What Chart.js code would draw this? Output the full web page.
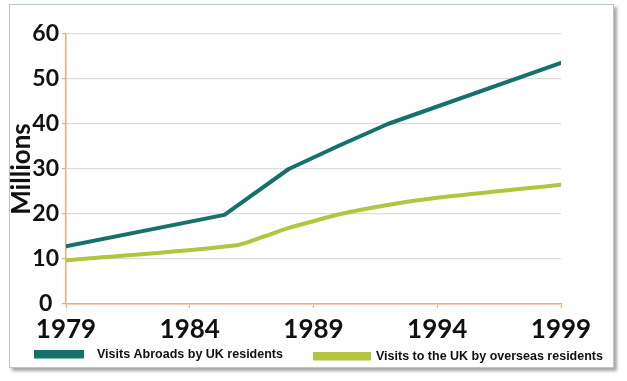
<!DOCTYPE html>
<html>
<head>
<meta charset="utf-8">
<script src="https://cdn.jsdelivr.net/npm/chart.js@4.4.1/dist/chart.umd.min.js"></script>
<style>
  html, body { margin: 0; padding: 0; background: #ffffff; }
  #frame { position: absolute; left: 9px; top: 4px; width: 605px; height: 364px; box-sizing: border-box;
           border: 1px solid #b9c6d6; background: #fff; box-shadow: 3px 3px 3px rgba(0,0,0,0.35); }
  #c { position: absolute; left: 0; top: 0; }
</style>
</head>
<body>
<div id="frame"></div>
<canvas id="c" width="627" height="381"></canvas>
<script>
// ---- data ----
const seriesNames = ['Visits Abroads by UK residents', 'Visits to the UK by overseas residents'];
const abroadYears  = [1979, 1985.4, 1988, 1990, 1992, 1999];
const abroadValues = [12.8, 19.8, 30, 35.1, 40, 53.6];
const toUKYears    = [1979, 1985.8, 1987, 1988, 1989, 1990, 1992, 1994, 1999];
const toUKValues   = [9.7, 13.0, 15.0, 16.9, 18.4, 19.9, 22.0, 23.6, 26.5];
const xTickYears   = [1979, 1984, 1989, 1994, 1999];
const yTicks       = [0, 10, 20, 30, 40, 50, 60];
const yTitle = 'Millions';

const TEAL = '#15726a';
const LIME = '#b3c43f';
const ORANGE = '#f7a873';

const toPoints = (xs, ys) => xs.map((x, i) => ({ x: x, y: ys[i] }));

// Legend drawn below the x axis, taking names and colours from the datasets
const bottomLegend = {
  id: 'bottomLegend',
  afterDraw(chart) {
    const ctx = chart.ctx;
    const items = [
      { boxX: 34, boxW: 50, boxY: 350, textX: 97 },
      { boxX: 313, boxW: 58, boxY: 352, textX: 376 }
    ];
    ctx.save();
    ctx.font = 'bold 12.5px "Liberation Sans"';
    ctx.textBaseline = 'middle';
    ctx.textAlign = 'left';
    chart.data.datasets.forEach((ds, i) => {
      const it = items[i];
      ctx.fillStyle = ds.borderColor;
      ctx.fillRect(it.boxX, it.boxY, it.boxW, 8.5);
      ctx.fillStyle = '#111';
      ctx.fillText(ds.label, it.textX, it.boxY + 5);
    });
    ctx.restore();
  }
};

new Chart(document.getElementById('c'), {
  type: 'line',
  data: {
    datasets: [
      { label: seriesNames[0], data: toPoints(abroadYears, abroadValues), borderColor: TEAL, backgroundColor: TEAL,
        borderWidth: 4, pointRadius: 0, tension: 0, borderJoinStyle: 'round', borderCapStyle: 'round' },
      { label: seriesNames[1], data: toPoints(toUKYears, toUKValues), borderColor: LIME, backgroundColor: LIME,
        borderWidth: 4, pointRadius: 0, tension: 0.3, borderJoinStyle: 'round', borderCapStyle: 'round' }
    ]
  },
  plugins: [bottomLegend],
  options: {
    responsive: false,
    animation: false,
    layout: { padding: { top: 34, left: 0, right: 0, bottom: 37 } },
    plugins: {
      tooltip: { enabled: false },
      legend: { display: false }
    },
    scales: {
      x: {
        type: 'linear', min: xTickYears[0], max: xTickYears[xTickYears.length - 1],
        afterBuildTicks: s => { s.ticks = xTickYears.map(v => ({ value: v })); },
        afterFit: s => { s.height = 40; },
        border: { display: true, color: ORANGE, width: 1.5 },
        grid: { drawOnChartArea: false, drawTicks: true, tickLength: 4, tickColor: ORANGE, color: ORANGE },
        ticks: { padding: 6, color: '#111', font: { family: 'Lato', weight: 'bold', size: 26 },
                 callback: v => String(v), maxRotation: 0 }
      },
      y: {
        min: yTicks[0], max: yTicks[yTicks.length - 1],
        afterBuildTicks: s => { s.ticks = yTicks.map(v => ({ value: v })); },
        afterFit: s => { s.width = 66; },
        border: { display: true, color: ORANGE, width: 1.5 },
        grid: { color: '#dcdcdc', lineWidth: 1.2, tickLength: 4, tickColor: ORANGE },
        ticks: { padding: 3, crossAlign: 'center', color: '#111', font: { family: 'Lato', weight: 'bold', size: 23 } },
        title: { display: true, text: yTitle, color: '#111', padding: { top: 6, bottom: 0 },
                 font: { family: 'Lato', weight: 'bold', size: 26 } }
      },
      yRight: {
        position: 'right', display: true,
        border: { display: false }, grid: { display: false }, ticks: { display: false },
        afterFit: s => { s.width = 66; }
      }
    }
  }
});
</script>
</body>
</html>
